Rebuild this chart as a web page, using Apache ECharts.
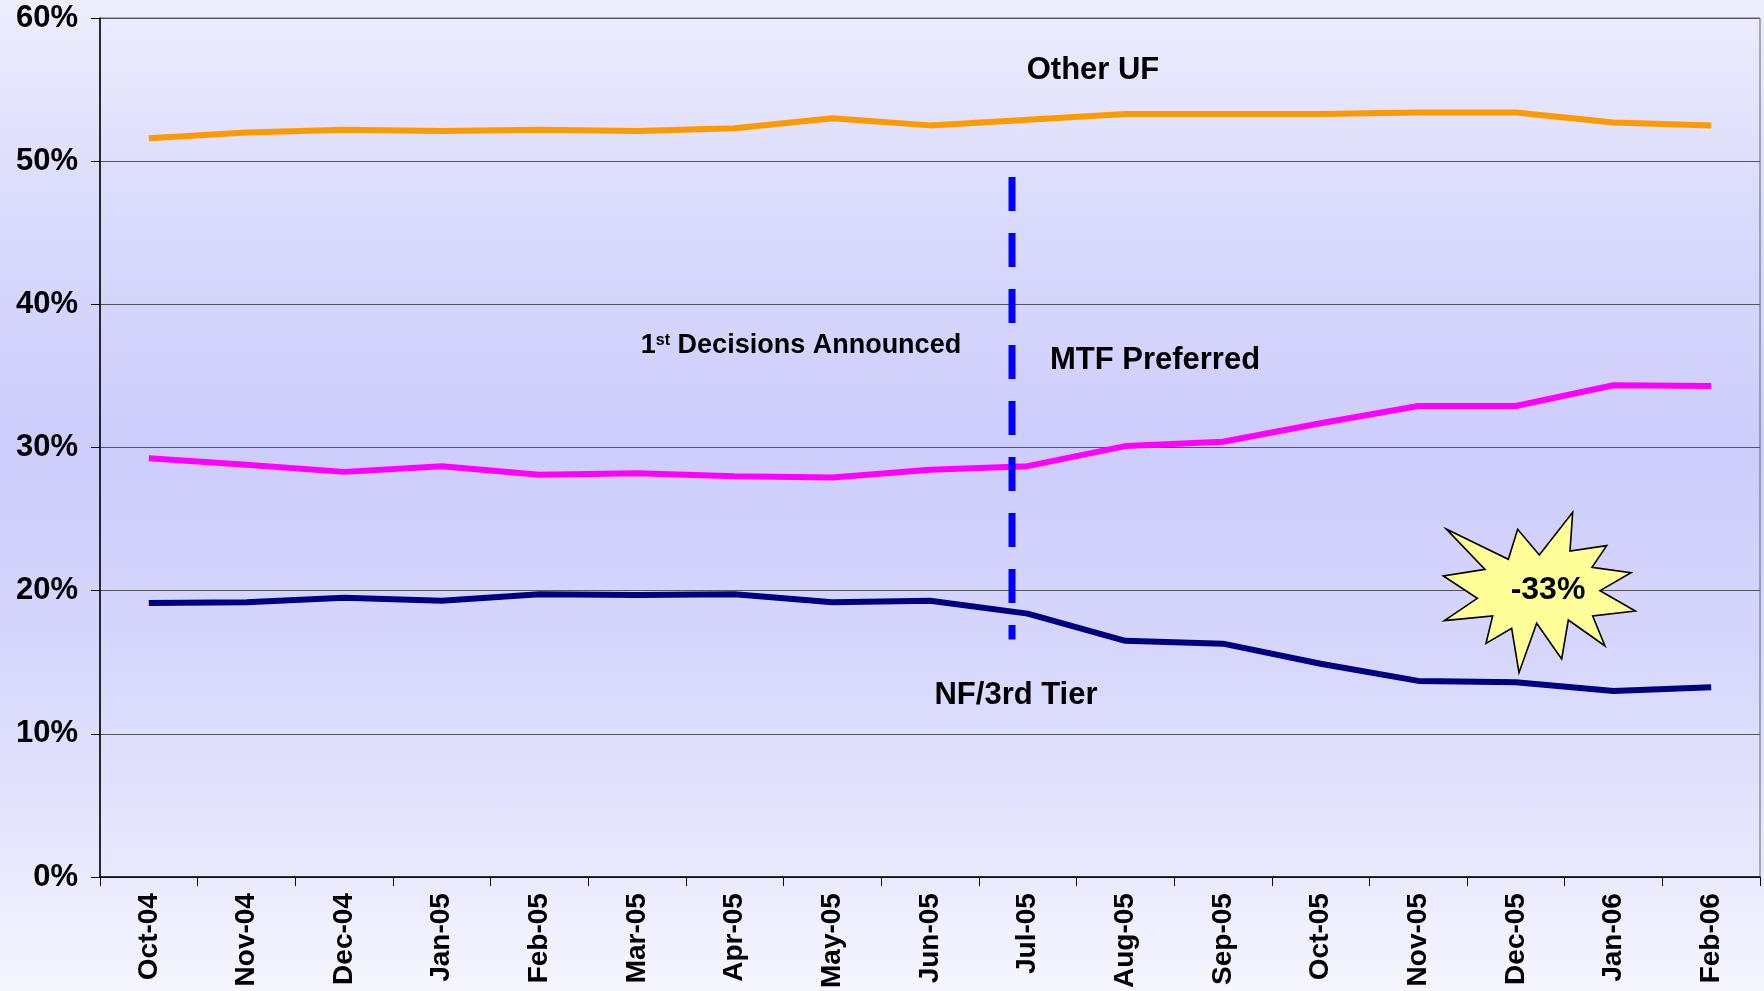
<!DOCTYPE html>
<html>
<head>
<meta charset="utf-8">
<script src="https://cdn.jsdelivr.net/npm/echarts@6/dist/echarts.min.js"></script>
<style>
html,body{margin:0;padding:0;width:1764px;height:991px;overflow:hidden;
background:linear-gradient(to bottom,#EDEDFD 0%,#DADAFC 22%,#CDCDFC 45%,#D6D6FC 65%,#E6E6FD 85%,#F6F6FF 100%);}
#chart{width:1764px;height:991px;}
</style>
</head>
<body>
<div id="chart"></div>
<script>
const categories = ['Oct-04','Nov-04','Dec-04','Jan-05','Feb-05','Mar-05','Apr-05','May-05','Jun-05','Jul-05','Aug-05','Sep-05','Oct-05','Nov-05','Dec-05','Jan-06','Feb-06'];
const otherUF = [51.6,52.0,52.2,52.1,52.2,52.1,52.3,53.0,52.5,52.9,53.3,53.3,53.3,53.4,53.4,52.7,52.5];
const mtfPreferred = [29.25,28.8,28.3,28.7,28.1,28.2,28.0,27.9,28.45,28.7,30.1,30.4,31.7,32.9,32.9,34.35,34.3];
const nf3rdTier = [19.15,19.2,19.5,19.3,19.75,19.7,19.75,19.2,19.3,18.4,16.5,16.3,14.9,13.7,13.6,13.0,13.25];
const yTicks = [0,10,20,30,40,50,60];

const FONT = '"Liberation Sans", Arial, sans-serif';
const chart = echarts.init(document.getElementById('chart'));

const starPts = [[140,148],[325,238],[353,148],[418,225],[518,97],[510,213],[620,197],[576,262],[693,278],[600,332],[706,393],[578,408],[615,498],[505,420],[485,537],[410,430],[357,578],[335,445],[258,490],[278,408],[133,422],[232,355],[130,288],[255,268]].map(p=>[p[0]/3+1400,p[1]/3+480]);

const option = {
  backgroundColor: 'transparent',
  animation: false,
  grid: {left:100, right:4, top:18, bottom:113, show:true, borderColor:'#666', borderWidth:1, backgroundColor:'transparent'},
  xAxis: {
    type:'category', data:categories, boundaryGap:true,
    axisLine:{lineStyle:{color:'#000', width:1.5}},
    axisTick:{show:true, length:9, lineStyle:{color:'#000'}},
    axisLabel:{rotate:90, margin:16, color:'#000', fontFamily:FONT, fontWeight:'bold', fontSize:28}
  },
  yAxis: {
    type:'value', min:yTicks[0], max:yTicks[yTicks.length-1], interval:10,
    axisLine:{show:true, lineStyle:{color:'#000', width:1.5}},
    axisTick:{show:true, length:9, lineStyle:{color:'#000'}},
    splitLine:{show:true, lineStyle:{color:'#555', width:1}},
    axisLabel:{formatter:'{value}%', margin:22, color:'#000', fontFamily:FONT, fontWeight:'bold', fontSize:31}
  },
  series: [
    {name:'Other UF', type:'line', data:otherUF, symbol:'none', lineStyle:{color:'#FF9900', width:6}, z:3},
    {name:'MTF Preferred', type:'line', data:mtfPreferred, symbol:'none', lineStyle:{color:'#FF00FF', width:6}, z:3},
    {name:'NF/3rd Tier', type:'line', data:nf3rdTier, symbol:'none', lineStyle:{color:'#000080', width:6}, z:3}
  ],
  graphic: [
    {type:'text', x:1093, y:70, style:{text:'Other UF', font:'bold 31px '+FONT, fill:'#000', textAlign:'center', textVerticalAlign:'middle'}},
    {type:'text', x:1155, y:360, style:{text:'MTF Preferred', font:'bold 31px '+FONT, fill:'#000', textAlign:'center', textVerticalAlign:'middle'}},
    {type:'text', x:1016, y:695, style:{text:'NF/3rd Tier', font:'bold 31px '+FONT, fill:'#000', textAlign:'center', textVerticalAlign:'middle'}},
    {type:'text', x:801, y:346, style:{
      text:'{a|1}{s|st}{a| Decisions Announced}',
      textAlign:'center', textVerticalAlign:'middle',
      rich:{a:{font:'bold 27px '+FONT, fill:'#000', verticalAlign:'bottom'}, s:{font:'bold 16px '+FONT, fill:'#000', verticalAlign:'top'}}
    }},
    {type:'polygon', shape:{points:starPts}, style:{fill:'#FFFF99', stroke:'#000', lineWidth:1.6}, z:10},
    {type:'text', x:1548, y:590, z:11, style:{text:'-33%', font:'bold 32px '+FONT, fill:'#000', textAlign:'center', textVerticalAlign:'middle'}}
  ]
};
chart.setOption(option);

// dashed "decision" marker, placed slightly left of the Jul-05 category centre
const idx = categories.indexOf('Jul-05');
const pA = chart.convertToPixel({gridIndex:0}, [idx, 48.9]);
const pB = chart.convertToPixel({gridIndex:0}, [idx, 16.6]);
const band = chart.convertToPixel({gridIndex:0}, [idx+1, 0])[0] - pA[0];
const xLine = pA[0] - band*0.16;
const g = option.graphic.slice();
g.push({type:'line', z:5, shape:{x1:xLine, y1:pA[1], x2:xLine, y2:pB[1]},
  style:{stroke:'#0000FF', lineWidth:7, lineDash:[34,22], lineCap:'butt'}});
chart.setOption({graphic:g}, {replaceMerge:['graphic']});
</script>
</body>
</html>
